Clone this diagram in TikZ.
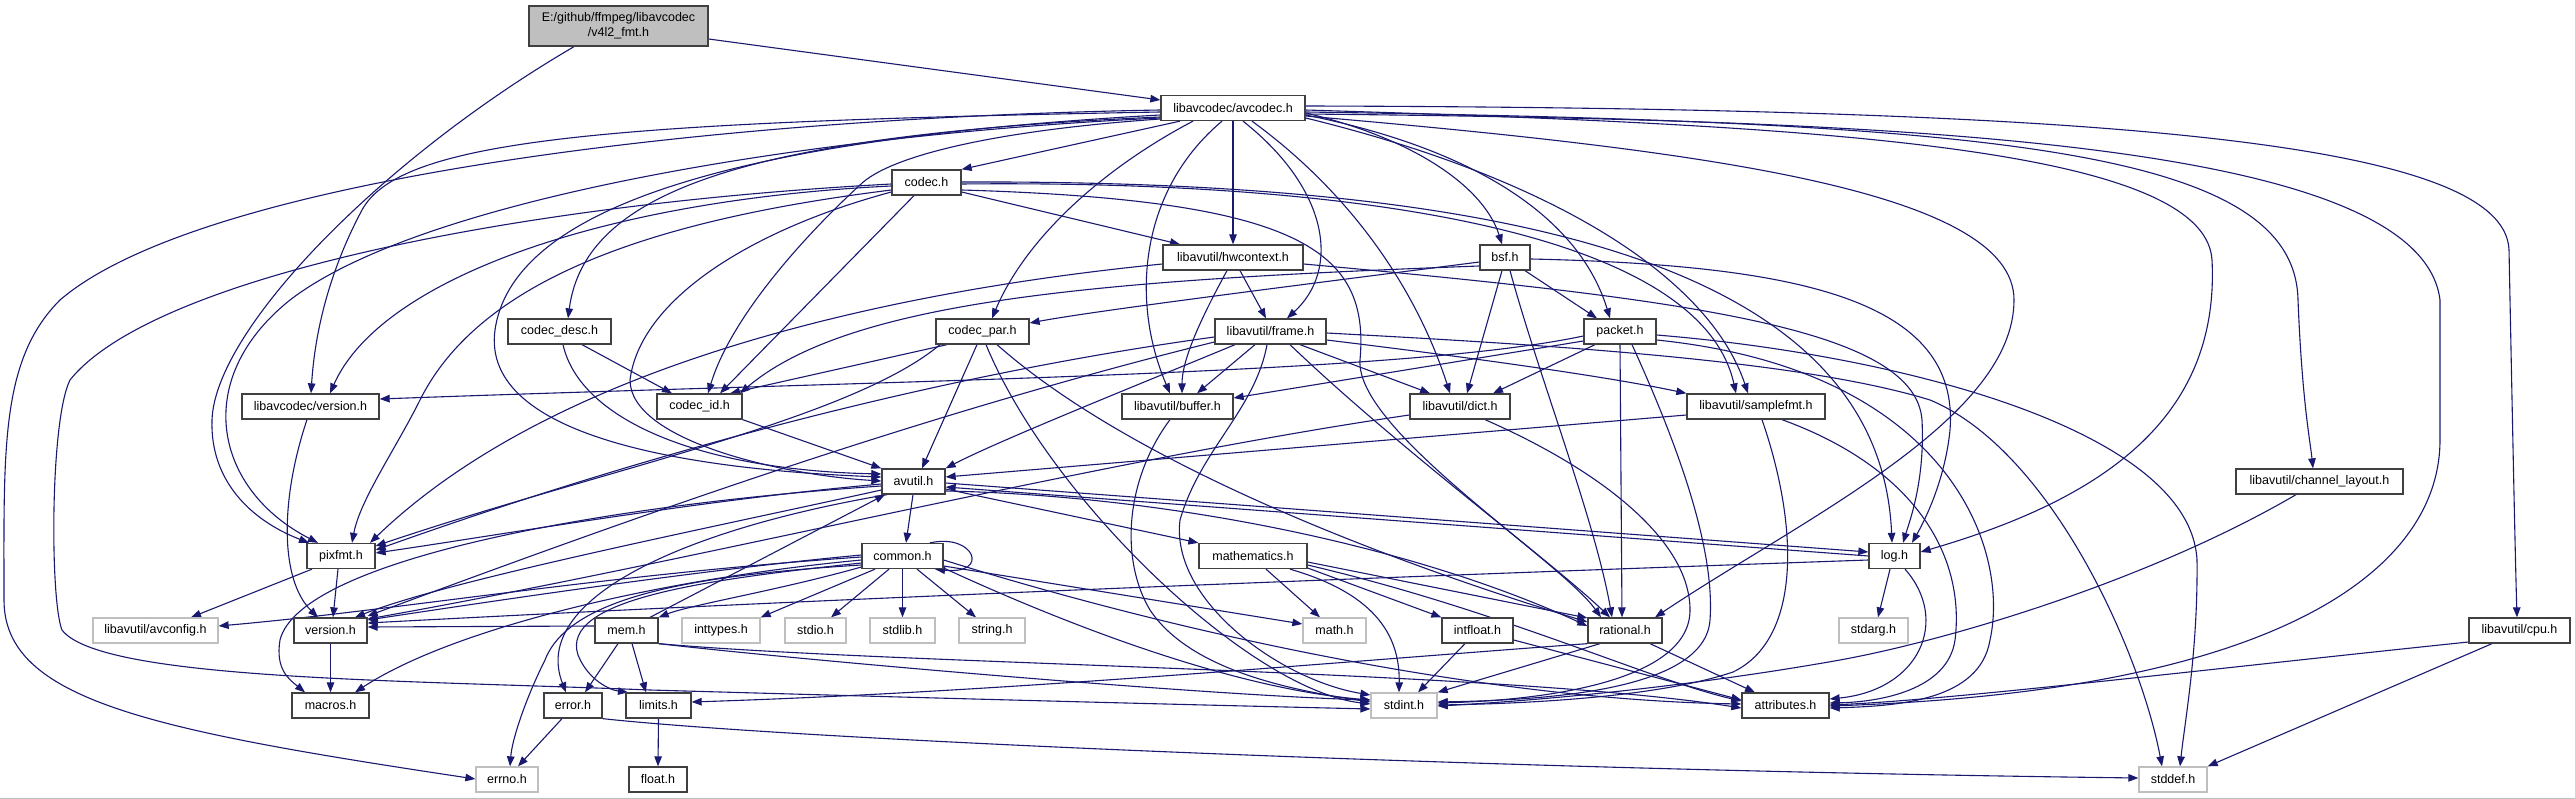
\documentclass[tikz,border=0pt]{standalone}
\usepackage{fontspec}
\setmainfont{Liberation Sans}
\usetikzlibrary{arrows.meta}
\pgfdeclarelayer{bg}
\pgfdeclarelayer{edges}
\pgfsetlayers{bg,edges,main}
\definecolor{edgec}{HTML}{191970}
\definecolor{rootfill}{HTML}{BFBFBF}
\definecolor{ndborder}{HTML}{404040}
\definecolor{sysborder}{HTML}{BFBFBF}
\newcommand\nodefont{\fontsize{12.5}{15}\selectfont}
\tikzset{
  nd/.style={draw=ndborder, line width=1.3pt, fill=white, inner sep=0pt, minimum height=25pt, font=\nodefont, text=black},
  sys/.style={nd, draw=sysborder},
  e/.style={draw=edgec, line width=1.1pt, -{Triangle[length=10pt,width=7.5pt]}},
}
\begin{document}
\begin{tikzpicture}[x=1pt,y=-1pt]
\useasboundingbox (0,0) rectangle (2575,799);
\begin{pgfonlayer}{bg}
\fill[white] (0,0) rectangle (2575,799);
\draw[black!25, line width=1pt] (0,798.5) -- (2575,798.5);
\end{pgfonlayer}

% nodes
\node[nd, fill=rootfill, minimum width=179pt, minimum height=40pt, align=center] (root) at (618.5,26) {E:/github/ffmpeg/libavcodec\\/v4l2\_fmt.h};
\node[nd, minimum width=144pt] (avc) at (1233,108) {libavcodec/avcodec.h};
\node[nd, minimum width=69pt] (codec) at (926.5,182.5) {codec.h};
\node[nd, minimum width=140pt] (hwc) at (1233,257.5) {libavutil/hwcontext.h};
\node[nd, minimum width=50pt] (bsf) at (1505,257.5) {bsf.h};
\node[nd, minimum width=103pt] (cdesc) at (559.5,331.5) {codec\_desc.h};
\node[nd, minimum width=93pt] (cpar) at (982.5,331.5) {codec\_par.h};
\node[nd, minimum width=111pt] (frame) at (1270.5,331.5) {libavutil/frame.h};
\node[nd, minimum width=72pt] (packet) at (1620,331.5) {packet.h};
\node[nd, minimum width=137pt] (lver) at (310.5,406.5) {libavcodec/version.h};
\node[nd, minimum width=85pt] (cid) at (699.5,406.5) {codec\_id.h};
\node[nd, minimum width=111pt] (buffer) at (1177.5,406.5) {libavutil/buffer.h};
\node[nd, minimum width=100pt] (dict) at (1460,406.5) {libavutil/dict.h};
\node[nd, minimum width=138pt] (sfmt) at (1756,406.5) {libavutil/samplefmt.h};
\node[nd, minimum width=167pt] (chl) at (2319.5,481.5) {libavutil/channel\_layout.h};
\node[nd, minimum width=63pt] (avutil) at (913.5,481.5) {avutil.h};
\node[nd, minimum width=68pt] (pixfmt) at (341,556) {pixfmt.h};
\node[nd, minimum width=81pt] (common) at (902.5,556) {common.h};
\node[nd, minimum width=108pt] (mathm) at (1253,556) {mathematics.h};
\node[nd, minimum width=51pt] (log) at (1894.5,556) {log.h};
\node[sys, minimum width=125pt] (avcfg) at (155.5,630.5) {libavutil/avconfig.h};
\node[nd, minimum width=73pt] (ver) at (330.5,630.5) {version.h};
\node[nd, minimum width=63pt] (mem) at (626.5,630.5) {mem.h};
\node[sys, minimum width=78pt] (inttypes) at (721,630.5) {inttypes.h};
\node[sys, minimum width=61pt] (stdio) at (815.5,630.5) {stdio.h};
\node[sys, minimum width=65pt] (stdlib) at (902.5,630.5) {stdlib.h};
\node[sys, minimum width=66pt] (string) at (992,630.5) {string.h};
\node[sys, minimum width=63pt] (math) at (1334.5,630.5) {math.h};
\node[nd, minimum width=71pt] (intfloat) at (1477.5,630.5) {intfloat.h};
\node[nd, minimum width=74pt] (rational) at (1625,630.5) {rational.h};
\node[sys, minimum width=69pt] (stdarg) at (1873.5,630.5) {stdarg.h};
\node[nd, minimum width=101pt] (cpu) at (2519.5,630.5) {libavutil/cpu.h};
\node[nd, minimum width=77pt] (macros) at (330.5,705.5) {macros.h};
\node[nd, minimum width=58pt] (error) at (573,705.5) {error.h};
\node[nd, minimum width=65pt] (limits) at (658.5,705.5) {limits.h};
\node[sys, minimum width=66pt] (stdint) at (1404,705.5) {stdint.h};
\node[nd, minimum width=87pt] (attr) at (1785.5,705.5) {attributes.h};
\node[sys, minimum width=62pt] (errno) at (507,779.5) {errno.h};
\node[nd, minimum width=58pt] (float) at (658,779.5) {float.h};
\node[sys, minimum width=68pt] (stddef) at (2173,779.5) {stddef.h};

\begin{pgfonlayer}{edges}
% root
\draw[e] (root.east |- 0,39) -- (avc.west |- 0,100);
\draw[e] (574,0 |- root.south) .. controls (380,160) and (215,330) .. (212,420) .. controls (210,480) and (250,520) .. (309,0 |- pixfmt.north);
% avcodec
\draw[e] (1180,0 |- avc.south) -- (codec.north east);
\draw[e] (avc.south) -- (hwc.north);
\draw[e] (avc.east |- 0,113) .. controls (1420,140) and (1485,190) .. (1502,0 |- bsf.north);
\draw[e] (avc.west |- 0,117) .. controls (750,135) and (585,190) .. (568,0 |- cdesc.north);
\draw[e] (1193,0 |- avc.south) .. controls (1100,170) and (1025,240) .. (992,0 |- cpar.north);
\draw[e] (1243,0 |- avc.south) .. controls (1330,190) and (1340,270) .. (1287,0 |- frame.north);
\draw[e] (avc.east |- 0,115) .. controls (1480,150) and (1580,220) .. (1610,0 |- packet.north);
\draw[e] (avc.west |- 0,119) .. controls (1000,130) and (890,155) .. (860,185) .. controls (800,240) and (730,320) .. (708,0 |- cid.north);
\draw[e] (1222,0 |- avc.south) .. controls (1140,190) and (1130,300) .. (1170,0 |- buffer.north);
\draw[e] (1252,0 |- avc.south) .. controls (1360,200) and (1420,300) .. (1450,0 |- dict.north);
\draw[e] (avc.east |- 0,118) .. controls (1560,180) and (1710,280) .. (1748,0 |- sfmt.north);
\draw[e] (avc.east |- 0,110) .. controls (1800,125) and (2205,145) .. (2212,260) .. controls (2220,420) and (2100,500) .. (log.east |- 0,552);
\draw[e] (avc.east |- 0,116) .. controls (1700,150) and (2014,190) .. (2014,300) .. controls (2014,420) and (1800,520) .. (1655,0 |- rational.north);
\draw[e] (avc.east |- 0,112) .. controls (2000,122) and (2295,150) .. (2298,300) .. controls (2302,400) and (2310,440) .. (2313,0 |- chl.north);
\draw[e] (avc.east |- 0,106) .. controls (2100,108) and (2505,140) .. (2509,250) .. controls (2512,400) and (2515,550) .. (2517,0 |- cpu.north);
\draw[e] (avc.east |- 0,114) .. controls (1900,120) and (2420,140) .. (2440,300) -- (2440,440) .. controls (2440,560) and (2300,690) .. (attr.east |- 0,706);
\draw[e] (avc.west |- 0,115) .. controls (800,135) and (515,190) .. (495,330) .. controls (480,440) and (700,470) .. (avutil.west |- 0,477);
\draw[e] (avc.west |- 0,118) .. controls (800,135) and (420,200) .. (290,300) .. controls (190,380) and (215,490) .. (318,0 |- pixfmt.north);
\draw[e] (avc.west |- 0,112) .. controls (600,122) and (400,140) .. (362,210) .. controls (330,270) and (315,330) .. (311,0 |- lver.north);
\draw[e] (avc.west |- 0,110) .. controls (700,118) and (200,180) .. (60,300) .. controls (0,360) and (4,450) .. (4,600) .. controls (4,700) and (150,730) .. (errno.west |- 0,779);
% codec
\draw[e] (codec.east |- 0,192) -- (1180,0 |- hwc.north);
\draw[e] (914,0 |- codec.south) -- (720,0 |- cid.north);
\draw[e] (codec.west |- 0,192) .. controls (750,230) and (640,300) .. (630,380) .. controls (630,440) and (780,475) .. (avutil.west |- 0,481);
\draw[e] (codec.west |- 0,190) .. controls (650,220) and (480,280) .. (420,400) .. controls (395,450) and (360,500) .. (352,0 |- pixfmt.north);
\draw[e] (codec.west |- 0,186) .. controls (600,200) and (380,280) .. (330,0 |- lver.north);
\draw[e] (codec.west |- 0,184) .. controls (500,205) and (150,280) .. (70,380) .. controls (50,420) and (50,600) .. (62,630) .. controls (100,680) and (400,680) .. (650,690) .. controls (1000,700) and (1200,705) .. (stdint.west |- 0,709);
\draw[e] (codec.east |- 0,190) .. controls (1300,200) and (1370,250) .. (1360,360) .. controls (1355,430) and (1560,560) .. (1601,0 |- rational.north);
\draw[e] (codec.east |- 0,184) .. controls (1350,180) and (1700,230) .. (1736,0 |- sfmt.north);
\draw[e] (codec.east |- 0,182) .. controls (1500,180) and (1880,260) .. (1892,0 |- log.north);
% hwcontext
\draw[e] (1227,0 |- hwc.south) .. controls (1200,320) and (1182,360) .. (1182,0 |- buffer.north);
\draw[e] (1240,0 |- hwc.south) -- (1266,0 |- frame.north);
\draw[e] (hwc.east |- 0,264) .. controls (1700,300) and (1915,330) .. (1922,420) .. controls (1925,480) and (1910,520) .. (1903,0 |- log.north);
\draw[e] (hwc.west |- 0,264) .. controls (900,290) and (560,360) .. (370,0 |- pixfmt.north);
% bsf
\draw[e] (1525,0 |- bsf.south) -- (1597,0 |- packet.north);
\draw[e] (1502,0 |- bsf.south) -- (1467,0 |- dict.north);
\draw[e] (1510,0 |- bsf.south) .. controls (1540,380) and (1595,520) .. (1612,0 |- rational.north);
\draw[e] (bsf.east |- 0,259) .. controls (1800,265) and (1960,300) .. (1950,430) .. controls (1945,480) and (1925,520) .. (1912,0 |- log.north);
\draw[e] (bsf.west |- 0,266) .. controls (1100,280) and (850,300) .. (740,0 |- cid.north);
\draw[e] (bsf.west |- 0,262) .. controls (1300,285) and (1100,310) .. (cpar.east |- 0,323);
% codec_desc
\draw[e] (582,0 |- cdesc.south) -- (672,0 |- cid.north);
\draw[e] (563,0 |- cdesc.south) .. controls (580,420) and (700,470) .. (avutil.west |- 0,474);
% codec_par
\draw[e] (947,0 |- cpar.south) -- (730,0 |- cid.north);
\draw[e] (977,0 |- cpar.south) -- (922,0 |- avutil.north);
\draw[e] (986,0 |- cpar.south) .. controls (1050,500) and (1250,690) .. (stdint.west |- 0,704);
\draw[e] (997,0 |- cpar.south) .. controls (1150,480) and (1450,580) .. (rational.west |- 0,622);
\draw[e] (940,0 |- cpar.south) .. controls (850,420) and (600,470) .. (pixfmt.east |- 0,546);
% frame
\draw[e] (1255,0 |- frame.south) -- (1197,0 |- buffer.north);
\draw[e] (1300,0 |- frame.south) -- (1430,0 |- dict.north);
\draw[e] (frame.east |- 0,340) .. controls (1450,355) and (1600,375) .. (sfmt.north west);
\draw[e] (1235,0 |- frame.south) .. controls (1150,380) and (1000,440) .. (avutil.north east);
\draw[e] (1267,0 |- frame.south) .. controls (1255,410) and (1200,450) .. (1180,520) .. controls (1170,600) and (1280,680) .. (stdint.west |- 0,695);
\draw[e] (1290,0 |- frame.south) .. controls (1400,450) and (1550,560) .. (1610,0 |- rational.north);
\draw[e] (frame.east |- 0,333) .. controls (1550,345) and (1800,360) .. (1930,400) .. controls (2050,450) and (2140,650) .. (2162,0 |- stddef.north);
\draw[e] (frame.west |- 0,342) .. controls (900,420) and (600,530) .. (ver.east |- 0,616);
\draw[e] (frame.west |- 0,337) .. controls (900,380) and (600,470) .. (pixfmt.east |- 0,550);
% packet
\draw[e] (packet.west |- 0,341) -- (buffer.east |- 0,398);
\draw[e] (1595,0 |- packet.south) -- (1493,0 |- dict.north);
\draw[e] (1620,0 |- packet.south) -- (1622,0 |- rational.north);
\draw[e] (1632,0 |- packet.south) .. controls (1680,450) and (1715,550) .. (1710,620) .. controls (1705,690) and (1550,700) .. (stdint.east |- 0,702);
\draw[e] (packet.east |- 0,340) .. controls (1950,370) and (2010,550) .. (1990,640) .. controls (1980,700) and (1900,706) .. (attr.east |- 0,708);
\draw[e] (packet.east |- 0,335) .. controls (1900,355) and (2190,430) .. (2197,560) .. controls (2198,650) and (2185,720) .. (2180,0 |- stddef.north);
\draw[e] (packet.west |- 0,336) .. controls (1400,375) and (900,380) .. (lver.east |- 0,399);
% buffer
\draw[e] (1170,0 |- buffer.south) .. controls (1125,480) and (1120,560) .. (1150,610) .. controls (1190,670) and (1290,690) .. (stdint.west |- 0,702);
% dict
\draw[e] (1485,0 |- dict.south) .. controls (1600,470) and (1690,540) .. (1690,610) .. controls (1690,680) and (1550,700) .. (stdint.east |- 0,703);
\draw[e] (dict.west |- 0,415) .. controls (1100,460) and (700,560) .. (ver.east |- 0,619);
% samplefmt
\draw[e] (sfmt.west |- 0,415) -- (avutil.east |- 0,477);
\draw[e] (1782,0 |- sfmt.south) .. controls (1920,470) and (1965,560) .. (1955,640) .. controls (1948,690) and (1880,702) .. (attr.east |- 0,703);
\draw[e] (1762,0 |- sfmt.south) .. controls (1800,530) and (1800,640) .. (1733,672) .. controls (1650,700) and (1500,704) .. (stdint.east |- 0,705);
% channel_layout
\draw[e] (2296,0 |- chl.south) .. controls (2150,580) and (1950,640) .. (1840,660) .. controls (1700,685) and (1550,700) .. (stdint.east |- 0,706);
% cpu
\draw[e] (cpu.west |- 0,642) .. controls (2200,670) and (1950,700) .. (attr.east |- 0,705);
\draw[e] (2492,0 |- cpu.south) -- (stddef.north east);
% avutil
\draw[e] (913,0 |- avutil.south) -- (906,0 |- common.north);
\draw[e] (avutil.east |- 0,489) -- (mathm.north west);
\draw[e] (avutil.east |- 0,483) -- (log.west |- 0,552);
\draw[e] (log.west |- 0,556) -- (avutil.east |- 0,487);
\draw[e] (avutil.east |- 0,491) .. controls (1150,495) and (1400,540) .. (rational.west |- 0,626);
\draw[e] (887,0 |- avutil.south) .. controls (680,530) and (530,600) .. (566,0 |- error.north);
\draw[e] (avutil.west |- 0,490) .. controls (700,530) and (450,580) .. (355,0 |- ver.north);
\draw[e] (avutil.west |- 0,486) .. controls (600,505) and (300,560) .. (280,640) .. controls (275,670) and (290,680) .. (305,0 |- macros.north);
\draw[e] (avutil.west |- 0,484) .. controls (700,500) and (500,535) .. (pixfmt.east |- 0,553);
% common
\draw[e] (930,0 |- common.north) .. controls (975,533) and (990,575) .. (935,0 |- common.south);
\draw[e] (875,0 |- common.south) -- (inttypes.north east);
\draw[e] (889,0 |- common.south) -- (831,0 |- stdio.north);
\draw[e] (common.south) -- (stdlib.north);
\draw[e] (917,0 |- common.south) -- (976,0 |- string.north);
\draw[e] (common.east |- 0,566) -- (math.west |- 0,624);
\draw[e] (common.east |- 0,568) .. controls (1100,640) and (1250,690) .. (stdint.west |- 0,700);
\draw[e] (common.east |- 0,560) .. controls (1200,640) and (1500,700) .. (attr.west |- 0,704);
\draw[e] (common.west |- 0,563) .. controls (700,580) and (560,600) .. (578,655) .. controls (588,680) and (610,690) .. (628,0 |- limits.north);
\draw[e] (common.west |- 0,565) .. controls (700,575) and (570,595) .. (545,660) .. controls (525,700) and (512,740) .. (510,0 |- errno.north);
\draw[e] (common.west |- 0,557) .. controls (600,575) and (400,610) .. (avcfg.east |- 0,626);
\draw[e] (common.west |- 0,560) .. controls (650,580) and (450,630) .. (355,0 |- macros.north);
\draw[e] (common.west |- 0,555) .. controls (700,570) and (500,600) .. (ver.east |- 0,620);
\draw[e] (common.west |- 0,567) .. controls (780,590) and (690,605) .. (mem.north east);
% mem
\draw[e] (618,0 |- mem.south) -- (585,0 |- error.north);
\draw[e] (632,0 |- mem.south) -- (646,0 |- limits.north);
\draw[e] (mem.south east) .. controls (800,660) and (1200,695) .. (stdint.west |- 0,700);
\draw[e] (mem.south east) .. controls (900,665) and (1500,670) .. (attr.west |- 0,708);
\draw[e] (650,0 |- mem.north) -- (885,0 |- avutil.south);
\draw[e] (mem.west |- 0,626) -- (ver.east |- 0,627);
% error
\draw[e] (562,0 |- error.south) -- (518,0 |- errno.north);
\draw[e] (error.south east) .. controls (800,740) and (1500,770) .. (stddef.west |- 0,778);
% limits
\draw[e] (limits.south) -- (float.north);
% mathematics
\draw[e] (1290,0 |- mathm.south) .. controls (1380,595) and (1400,640) .. (1399,0 |- stdint.north);
\draw[e] (mathm.east |- 0,568) -- (intfloat.north west);
\draw[e] (mathm.east |- 0,562) -- (rational.west |- 0,618);
\draw[e] (mathm.east |- 0,565) .. controls (1500,610) and (1650,680) .. (attr.west |- 0,701);
\draw[e] (1266,0 |- mathm.south) -- (1320,0 |- math.north);
% intfloat
\draw[e] (1465,0 |- intfloat.south) -- (1418,0 |- stdint.north);
\draw[e] (intfloat.east |- 0,640) -- (attr.west |- 0,700);
% rational
\draw[e] (1600,0 |- rational.south) -- (stdint.north east);
\draw[e] (1650,0 |- rational.south) -- (1755,0 |- attr.north);
\draw[e] (rational.south west) .. controls (1300,665) and (1000,692) .. (limits.east |- 0,702);
% log
\draw[e] (1890,0 |- log.south) -- (1878,0 |- stdarg.north);
\draw[e] (1905,0 |- log.south) .. controls (1950,620) and (1920,690) .. (attr.east |- 0,699);
\draw[e] (log.west |- 0,560) .. controls (1300,580) and (800,600) .. (ver.east |- 0,623);
% pixfmt
\draw[e] (312,0 |- pixfmt.south) -- (191,0 |- avcfg.north);
\draw[e] (338,0 |- pixfmt.south) -- (333,0 |- ver.north);
% versions
\draw[e] (307,0 |- lver.south) .. controls (280,500) and (280,580) .. (318,0 |- ver.north);
\draw[e] (ver.south) -- (macros.north);
% codec_id
\draw[e] (cid.south east) -- (avutil.north west);
\end{pgfonlayer}
\end{tikzpicture}
\end{document}
